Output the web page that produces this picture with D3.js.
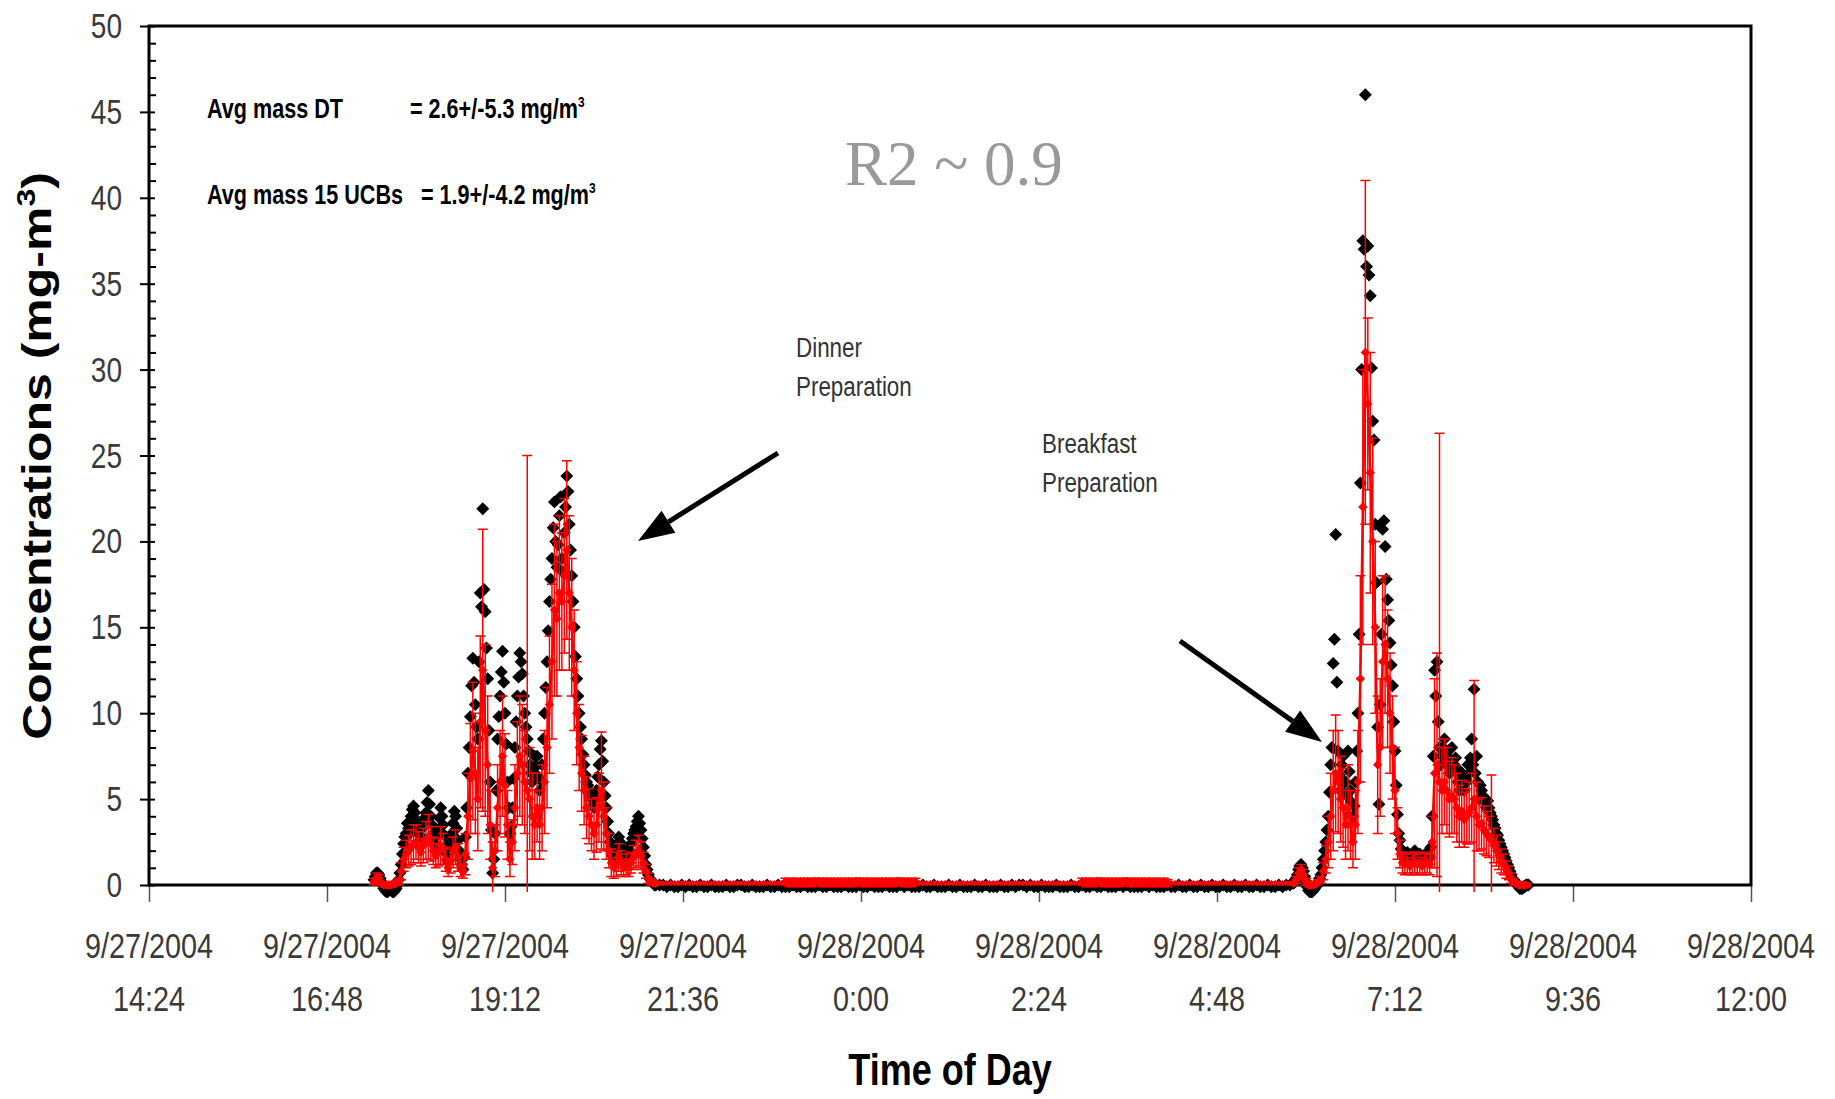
<!DOCTYPE html>
<html>
<head>
<meta charset="utf-8">
<script src="https://cdn.jsdelivr.net/npm/d3@7"></script>
<style>
  body { margin: 0; background: #fff; }
</style>
</head>
<body>
<svg id="chart" width="1835" height="1099"></svg>
<script>
// x range of the chart and its tick labels
const xDomain = ["2004-09-27 14:24", "2004-09-28 12:00"]
const xTickStep = 144   // minutes between ticks
const yMajor = [0, 5, 10, 15, 20, 25, 30, 35, 40, 45, 50]

// DustTrak (DT), one reading a minute during dinner, from 17:26
const dtDinnerStart = "2004-09-27 17:26"
const dtDinner = [
  0.3, 0.5, 0.7, 0.7, 0.6, 0.4, 0.2, 0.0, -0.2, -0.3,
  -0.4, -0.4, -0.3, -0.2, -0.3, -0.4, -0.4, -0.3, -0.2, 0.0,
  0.3, 0.7, 1.2, 1.8, 2.4, 2.8, 3.0, 3.6, 3.3, 3.0,
  4.0, 4.4, 4.6, 4.2, 3.8, 3.4, 3.2, 2.9, 2.8, 3.3,
  3.6, 3.9, 4.2, 4.8, 5.5, 4.7, 4.0, 3.5, 3.0, 2.7,
  2.4, 2.9, 3.2, 3.9, 4.5, 4.0, 3.5, 2.9, 2.2, 1.8,
  1.4, 1.9, 2.5, 3.0, 3.6, 4.3, 4.0, 3.3, 2.6, 2.0,
  1.5, 1.2, 0.9, 1.6, 2.8, 4.5, 6.5, 8.0, 9.8, 11.6,
  13.2, 11.8, 10.5, 9.2, 8.5, 13.0, 17.0, 16.2, 21.9, 17.2,
  15.9, 13.8, 12.0, 9.0, 6.0, 3.2, 0.7, 1.5, 3.0, 5.5,
  8.5, 9.8, 11.0, 12.4, 13.6, 11.8, 10.0, 8.2, 6.0, 4.5,
  3.0, 3.4, 4.5, 6.2, 8.0, 9.5, 11.0, 12.1, 13.5, 13.0,
  12.3, 11.0, 10.0, 9.2, 8.5, 7.8, 7.0, 6.5, 6.0, 6.8,
  7.5, 6.9, 7.5, 6.3, 5.5, 6.1, 7.0, 8.5, 10.0, 11.5,
  13.0, 14.8, 16.5, 17.8, 19.0, 20.8, 22.3, 20.0, 18.5, 19.8,
  21.5, 22.6, 19.0, 18.2, 20.5, 22.0, 23.8, 22.9, 21.0, 19.5,
  18.0, 16.5, 15.0, 13.3, 12.0, 11.0, 10.0, 9.2, 8.5, 7.6,
  7.0, 6.4, 6.0, 5.8, 5.5, 5.2, 5.0, 4.6, 4.5, 5.0,
  5.5, 6.3, 7.0, 7.9, 8.4, 7.2, 6.0, 5.2, 4.5, 3.7,
  3.0, 2.5, 2.0, 1.7, 1.5, 1.8, 2.0, 2.4, 2.8, 2.5,
  2.2, 1.8, 1.5, 1.7, 2.0, 1.8, 1.6, 2.0, 2.4, 2.7,
  3.0, 3.2, 3.4, 3.7, 4.0, 3.6, 3.2, 2.7, 2.2, 1.7,
  1.2, 0.9, 0.6, 0.4, 0.3, 0.2, 0.1, 0.0, 0.0
]

// DT during breakfast, one reading a minute from 5:50
const dtBreakfastStart = "2004-09-28 05:50"
const dtBreakfast = [
  0.1, 0.2, 0.4, 0.6, 0.9, 1.1, 1.2, 1.0, 0.8, 0.5,
  0.2, -0.1, -0.3, -0.4, -0.4, -0.4, -0.3, -0.2, -0.1, 0.0,
  0.2, 0.4, 0.6, 1.0, 1.5, 2.0, 2.5, 3.2, 4.0, 5.4,
  7.0, 8.0, 12.9, 14.3, 20.4, 11.8, 7.8, 6.4, 5.5, 7.0,
  7.5, 6.0, 6.0, 5.2, 7.8, 6.6, 5.5, 4.8, 4.0, 4.6,
  6.0, 7.8, 10.0, 14.6, 23.4, 30.0, 37.5, 37.0, 46.0, 36.0,
  37.2, 35.5, 34.3, 30.1, 27.0, 25.9, 21.0, 17.6, 9.2, 4.7,
  10.5, 14.6, 20.7, 21.2, 19.7, 17.8, 16.6, 15.4, 14.1, 12.8,
  11.6, 9.5, 7.8, 5.8, 4.1, 3.0, 2.6, 2.1, 1.8, 1.7,
  1.6, 1.8, 1.9, 1.7, 1.5, 1.6, 1.7, 1.9, 2.0, 1.8,
  1.6, 1.5, 1.8, 1.7, 1.5, 1.6, 1.7, 1.8, 1.9, 1.7,
  1.6, 2.2, 4.0, 7.5, 12.5, 11.0, 13.0, 9.5, 8.0, 7.0,
  7.5, 8.0, 8.5, 7.6, 7.0, 7.8, 6.5, 7.2, 8.0, 6.8,
  7.0, 7.4, 6.5, 6.0, 5.5, 6.6, 6.5, 6.0, 5.5, 6.2,
  6.0, 7.0, 6.5, 7.4, 8.5, 7.0, 11.4, 6.5, 7.5, 6.0,
  5.0, 5.8, 5.5, 5.2, 5.0, 4.8, 4.5, 4.9, 4.5, 4.2,
  4.0, 3.8, 3.5, 3.3, 3.0, 2.9, 2.6, 2.4, 2.2, 2.0,
  1.8, 1.6, 1.4, 1.2, 1.0, 0.8, 0.6, 0.4, 0.3, 0.2,
  0.1, 0.0, -0.1, -0.2, -0.2, -0.2, -0.1, -0.1, 0.0, 0.0,
  0.0
]

// mean of the 15 UCBs and its standard deviation, every 2 minutes during dinner
const ucbDinnerStart = "2004-09-27 17:26"
const ucbDinner = [
  0.2, 0.4, 0.4, 0.1, 0.0, 0.0, 0.0, 0.0, 0.1, 0.1,
  0.2, 0.8, 1.5, 1.8, 2.0, 2.2, 2.4, 2.5, 2.2, 1.9,
  2.3, 2.6, 2.8, 2.4, 2.0, 1.7, 1.9, 2.3, 2.1, 1.5,
  1.0, 1.4, 1.9, 2.2, 1.6, 1.1, 0.8, 1.8, 4.0, 6.2,
  7.8, 6.5, 5.0, 9.5, 12.5, 9.0, 7.0, 3.5, 1.0, 2.0,
  4.5, 6.0, 7.5, 5.8, 3.5, 1.5, 2.5, 4.5, 6.5, 7.5,
  7.0, 6.0, 5.5, 5.0, 4.0, 3.5, 4.5, 3.5, 4.5, 6.0,
  8.0, 10.5, 13.0, 16.0, 15.5, 17.0, 16.5, 18.0, 19.5, 17.0,
  15.0, 12.5, 10.0, 8.0, 6.5, 5.5, 4.5, 4.0, 3.5, 3.0,
  3.5, 4.5, 5.5, 4.0, 3.0, 2.0, 1.3, 1.0, 1.2, 1.6,
  1.3, 1.0, 1.2, 1.0, 1.3, 1.6, 1.8, 2.0, 1.7, 1.3,
  0.8, 0.4, 0.2, 0.1, 0.1
]
const sdDinner = [
  0.2, 0.3, 0.2, 0.1, 0.1, 0.1, 0.1, 0.1, 0.1, 0.1,
  0.2, 0.5, 0.7, 0.8, 0.9, 1.0, 1.1, 1.0, 0.9, 0.8,
  1.0, 1.1, 1.3, 1.0, 0.8, 0.7, 0.8, 1.1, 0.9, 0.7,
  0.5, 0.7, 0.9, 1.0, 0.8, 0.6, 0.4, 1.2, 2.5, 3.2,
  4.0, 3.5, 3.0, 5.0, 8.2, 5.0, 4.0, 2.0, 1.5, 1.5,
  2.5, 3.0, 3.5, 3.0, 2.0, 1.0, 1.3, 2.5, 3.0, 3.5,
  3.5, 3.0, 19.5, 3.0, 2.5, 2.0, 2.0, 2.0, 2.5, 3.0,
  3.5, 4.0, 4.5, 5.0, 4.5, 4.5, 4.0, 4.5, 5.2, 4.5,
  4.0, 3.5, 3.0, 2.5, 2.2, 2.0, 1.8, 1.6, 1.5, 1.5,
  1.6, 2.0, 3.4, 2.0, 1.5, 1.0, 0.8, 0.6, 0.7, 0.8,
  0.7, 0.5, 0.6, 0.5, 0.6, 0.7, 0.8, 0.9, 0.8, 0.6,
  0.4, 0.3, 0.2, 0.1, 0.1
]

// UCB mean and sd every 2 minutes during breakfast, from 5:50
const ucbBreakfastStart = "2004-09-28 05:50"
const ucbBreakfast = [
  0.1, 0.3, 0.7, 0.9, 0.6, 0.2, 0.0, 0.0, 0.0, 0.1,
  0.2, 0.3, 0.8, 1.5, 2.5, 4.0, 5.5, 6.5, 6.0, 5.0,
  4.5, 3.5, 4.5, 3.5, 2.5, 3.5, 6.0, 12.0, 22.0, 31.0,
  28.0, 24.0, 20.0, 15.0, 7.0, 8.0, 13.0, 14.0, 12.0, 10.0,
  8.0, 5.5, 3.0, 1.8, 1.3, 1.2, 1.3, 1.1, 1.2, 1.3,
  1.2, 1.3, 1.1, 1.2, 1.3, 1.2, 2.5, 6.5, 7.0, 6.0,
  5.5, 6.0, 5.5, 5.0, 5.2, 5.0, 4.5, 4.0, 4.3, 3.8,
  4.0, 4.2, 4.5, 5.0, 4.0, 3.5, 3.6, 3.2, 3.0, 2.8,
  2.6, 2.3, 2.0, 1.7, 1.4, 1.2, 0.9, 0.7, 0.4, 0.2,
  0.1, 0.0, 0.0, 0.0, 0.0, 0.0
]
const sdBreakfast = [
  0.1, 0.2, 0.3, 0.3, 0.3, 0.2, 0.1, 0.1, 0.1, 0.1,
  0.1, 0.2, 0.5, 0.8, 1.5, 2.5, 3.5, 3.4, 3.0, 2.5,
  2.3, 2.0, 2.5, 2.0, 1.5, 2.0, 3.0, 6.0, 8.0, 10.0,
  5.0, 7.0, 6.0, 5.0, 4.0, 4.0, 5.0, 4.0, 4.0, 3.5,
  3.0, 2.5, 1.5, 0.8, 0.6, 0.6, 0.6, 0.5, 0.6, 0.6,
  0.6, 0.6, 0.5, 0.6, 0.6, 0.6, 1.5, 5.5, 6.5, 20.3,
  2.5, 2.5, 2.5, 2.2, 2.2, 2.0, 2.0, 1.8, 1.8, 1.6,
  1.6, 1.8, 2.0, 6.9, 2.0, 1.5, 1.5, 1.4, 1.3, 1.2,
  3.8, 1.0, 0.9, 0.8, 0.7, 0.6, 0.5, 0.4, 0.3, 0.2,
  0.1, 0.1, 0.1, 0.1, 0.1, 0.0
]

// night, both instruments every 3 minutes from 21:17
const nightStart = "2004-09-27 21:17"
const dtNight = [
  0.0, 0.0, -0.1, 0.0, -0.1, -0.1, 0.0, -0.1, 0.0, -0.1,
  -0.1, 0.0, -0.1, -0.1, 0.0, -0.1, -0.1, -0.1, 0.0, -0.1,
  -0.1, 0.0, 0.0, -0.1, -0.1, 0.0, -0.1, -0.1, -0.1, 0.0,
  -0.1, -0.1, 0.0, -0.1, -0.1, -0.1, 0.0, -0.1, -0.1, 0.0,
  -0.1, -0.1, -0.1, 0.0, -0.1, -0.1, 0.0, -0.1, -0.1, -0.1,
  0.0, -0.1, -0.1, -0.1, 0.0, -0.1, -0.1, 0.0, -0.1, -0.1,
  -0.1, 0.0, -0.1, -0.1, -0.1, 0.0, -0.1, 0.0, -0.1, -0.1,
  -0.1, 0.0, -0.1, -0.1, 0.0, -0.1, -0.1, -0.1, 0.0, -0.1,
  -0.1, 0.0, -0.1, -0.1, -0.1, 0.0, -0.1, -0.1, 0.0, -0.1,
  -0.1, -0.1, 0.0, -0.1, -0.1, 0.0, -0.1, 0.0, 0.0, -0.1,
  0.0, -0.1, -0.1, 0.0, -0.1, -0.1, -0.1, 0.0, -0.1, -0.1,
  -0.1, 0.0, -0.1, -0.1, 0.0, -0.1, -0.1, 0.0, -0.1, -0.1,
  0.0, -0.1, -0.1, -0.1, 0.0, -0.1, 0.0, -0.1, -0.1, -0.1,
  -0.1, 0.0, -0.1, 0.0, -0.1, -0.1, -0.1, 0.0, -0.1, -0.1,
  0.0, -0.1, -0.1, 0.0, -0.1, -0.1, 0.0, -0.1, -0.1, 0.0,
  -0.1, -0.1, 0.0, -0.1, -0.1, 0.0, -0.1, -0.1, 0.0, -0.1,
  -0.1, 0.0, -0.1, -0.1, 0.0, -0.1, -0.1, 0.0, -0.1, 0.0,
  0.0
]
const ucbNight = [
  0.1, 0.1, 0.1, 0.1, 0.1, 0.1, 0.1, 0.1, 0.1, 0.1,
  0.1, 0.1, 0.1, 0.1, 0.1, 0.1, 0.1, 0.1, 0.1, 0.1,
  0.1, 0.1, 0.1, 0.1, 0.1, 0.1, 0.1, 0.1, 0.1, 0.1,
  0.1, 0.1, 0.1, 0.1, 0.2, 0.1, 0.2, 0.1, 0.2, 0.1,
  0.2, 0.1, 0.2, 0.2, 0.1, 0.2, 0.1, 0.2, 0.1, 0.2,
  0.1, 0.2, 0.1, 0.2, 0.2, 0.1, 0.2, 0.1, 0.2, 0.1,
  0.2, 0.1, 0.2, 0.1, 0.2, 0.2, 0.1, 0.2, 0.1, 0.2,
  0.1, 0.1, 0.1, 0.1, 0.1, 0.1, 0.1, 0.1, 0.1, 0.1,
  0.1, 0.1, 0.1, 0.1, 0.1, 0.1, 0.1, 0.1, 0.1, 0.1,
  0.1, 0.1, 0.1, 0.1, 0.1, 0.1, 0.1, 0.1, 0.1, 0.1,
  0.1, 0.1, 0.1, 0.1, 0.1, 0.1, 0.1, 0.1, 0.1, 0.1,
  0.1, 0.1, 0.1, 0.1, 0.2, 0.1, 0.2, 0.1, 0.2, 0.2,
  0.1, 0.2, 0.1, 0.2, 0.1, 0.2, 0.2, 0.1, 0.2, 0.1,
  0.2, 0.1, 0.2, 0.1, 0.2, 0.1, 0.2, 0.1, 0.1, 0.1,
  0.1, 0.1, 0.1, 0.1, 0.1, 0.1, 0.1, 0.1, 0.1, 0.1,
  0.1, 0.1, 0.1, 0.1, 0.1, 0.1, 0.1, 0.1, 0.1, 0.1,
  0.1, 0.1, 0.1, 0.1, 0.1, 0.1, 0.1, 0.1, 0.1, 0.1,
  0.1
]
const sdNight = [
  0.05, 0.05, 0.05, 0.05, 0.05, 0.05, 0.05, 0.05, 0.05, 0.05,
  0.05, 0.05, 0.05, 0.05, 0.05, 0.05, 0.05, 0.05, 0.05, 0.05,
  0.05, 0.05, 0.05, 0.05, 0.05, 0.05, 0.05, 0.05, 0.05, 0.05,
  0.05, 0.05, 0.05, 0.05, 0.2, 0.2, 0.2, 0.2, 0.2, 0.2,
  0.2, 0.2, 0.2, 0.2, 0.2, 0.2, 0.2, 0.2, 0.2, 0.2,
  0.2, 0.2, 0.2, 0.2, 0.2, 0.2, 0.2, 0.2, 0.2, 0.2,
  0.2, 0.2, 0.2, 0.2, 0.2, 0.2, 0.2, 0.2, 0.2, 0.2,
  0.05, 0.05, 0.05, 0.05, 0.05, 0.05, 0.05, 0.05, 0.05, 0.05,
  0.05, 0.05, 0.05, 0.05, 0.05, 0.05, 0.05, 0.05, 0.05, 0.05,
  0.05, 0.05, 0.05, 0.05, 0.05, 0.05, 0.05, 0.05, 0.05, 0.05,
  0.05, 0.05, 0.05, 0.05, 0.05, 0.05, 0.05, 0.05, 0.05, 0.05,
  0.05, 0.05, 0.05, 0.05, 0.2, 0.2, 0.2, 0.2, 0.2, 0.2,
  0.2, 0.2, 0.2, 0.2, 0.2, 0.2, 0.2, 0.2, 0.2, 0.2,
  0.2, 0.2, 0.2, 0.2, 0.2, 0.2, 0.2, 0.2, 0.05, 0.05,
  0.05, 0.05, 0.05, 0.05, 0.05, 0.05, 0.05, 0.05, 0.05, 0.05,
  0.05, 0.05, 0.05, 0.05, 0.05, 0.05, 0.05, 0.05, 0.05, 0.05,
  0.05, 0.05, 0.05, 0.05, 0.05, 0.05, 0.05, 0.05, 0.05, 0.05,
  0.05
]

const statLines = [
  ["Avg mass DT", "= 2.6+/-5.3 mg/m"],
  ["Avg mass 15 UCBs", "= 1.9+/-4.2 mg/m"]
]
const notes = [
  {lines: ["Dinner", "Preparation"], x: 796, y: 357, from: [778, 453], to: [638, 541]},
  {lines: ["Breakfast", "Preparation"], x: 1042, y: 453, from: [1180, 641], to: [1322, 742]}
]

const parse = d3.timeParse("%Y-%m-%d %H:%M")
const squeeze = 0.8   // the original picture is narrowed horizontally
const sans = "'Liberation Sans', Arial, sans-serif"

let width = 1835,
  height = 1099,
  plot = {left: 149, right: 1751, top: 26, bottom: 885},
  svg = d3.select("#chart")

function dt_series(start, step, dt) {
  let t0 = parse(start)
  return dt.map((v, i) => ({t: d3.timeMinute.offset(t0, i * step), v: v}))
}

function ucb_series(start, step, mean, sd) {
  let t0 = parse(start)
  return mean.map((v, i) => ({t: d3.timeMinute.offset(t0, i * step), v: v, sd: sd[i]}))
}

// square diamond like the spreadsheet marker
const diamond = {
  draw(context, size) {
    let r = Math.sqrt(size / 2)
    context.moveTo(0, -r)
    context.lineTo(r, 0)
    context.lineTo(0, r)
    context.lineTo(-r, 0)
    context.closePath()
  }
}

function narrow_text(g, str, x, y, size, opts) {
  opts = opts || {}
  return g.append("text")
    .attr("transform", `translate(${x},${y}) scale(${squeeze},1)` + (opts.rotate ? ` rotate(${opts.rotate})` : ""))
    .attr("text-anchor", opts.anchor || "start")
    .attr("font-size", size)
    .attr("font-weight", opts.bold ? "bold" : "normal")
    .attr("fill", opts.fill || "#000")
    .style("font-family", sans)
    .text(str)
}

let x = d3.scaleTime()
  .domain(xDomain.map(parse))
  .range([plot.left, plot.right])
let y = d3.scaleLinear()
  .domain([0, 50])
  .range([plot.bottom, plot.top])

let dtPoints = [
  dt_series(dtDinnerStart, 1, dtDinner),
  dt_series(nightStart, 3, dtNight),
  dt_series(dtBreakfastStart, 1, dtBreakfast)
].flat()
let ucbSegments = [
  ucb_series(ucbDinnerStart, 2, ucbDinner, sdDinner),
  ucb_series(nightStart, 3, ucbNight, sdNight),
  ucb_series(ucbBreakfastStart, 2, ucbBreakfast, sdBreakfast)
]
let ucbPoints = ucbSegments.flat()

svg.append("defs").append("clipPath")
  .attr("id", "plot-clip")
  .append("rect")
  .attr("x", plot.left)
  .attr("y", plot.top)
  .attr("width", plot.right - plot.left)
  .attr("height", plot.bottom - plot.top + 7)

// ---- axes ----
let xTicks = d3.range(10).map(i => d3.timeMinute.offset(parse(xDomain[0]), i * xTickStep))
let fmtDate = d3.timeFormat("%-m/%-d/%Y"),
  fmtTime = d3.timeFormat("%-H:%M")

let xAxis = svg.append("g")
  .attr("transform", `translate(0,${plot.bottom})`)
  .call(d3.axisBottom(x).tickValues(xTicks).tickSize(17).tickFormat(""))
xAxis.select(".domain").remove()
xAxis.selectAll(".tick line").attr("stroke", "#555").attr("stroke-width", 1.5)

let labels = svg.append("g")
xTicks.forEach(t => {
  narrow_text(labels, fmtDate(t), x(t), 958, 36, {anchor: "middle", fill: "#3a3a3a"})
  narrow_text(labels, fmtTime(t), x(t), 1011, 36, {anchor: "middle", fill: "#3a3a3a"})
})

let yMinor = d3.range(0, 51).filter(v => v % 5 != 0)
let yAxisMinor = svg.append("g")
  .attr("transform", `translate(${plot.left},0)`)
  .call(d3.axisRight(y).tickValues(yMinor).tickSize(7).tickFormat(""))
yAxisMinor.select(".domain").remove()
yAxisMinor.selectAll(".tick line").attr("stroke", "#000").attr("stroke-width", 2)

let yAxisMajor = svg.append("g")
  .attr("transform", `translate(${plot.left},0)`)
  .call(d3.axisLeft(y).tickValues(yMajor).tickSize(9).tickFormat(""))
yAxisMajor.select(".domain").remove()
yAxisMajor.selectAll(".tick line").attr("x1", 6).attr("stroke", "#000").attr("stroke-width", 2)

yMajor.forEach(v => {
  narrow_text(labels, String(v), 122, y(v) + 12, 35, {anchor: "end", fill: "#3a3a3a"})
})

// plot frame
svg.append("rect")
  .attr("x", plot.left)
  .attr("y", plot.top)
  .attr("width", plot.right - plot.left)
  .attr("height", plot.bottom - plot.top)
  .attr("fill", "none")
  .attr("stroke", "#000")
  .attr("stroke-width", 3)

// ---- data ----
svg.append("g")
  .selectAll("path")
  .data(dtPoints).enter()
  .append("path")
  .attr("transform", d => `translate(${x(d.t)},${y(d.v)})`)
  .attr("d", d3.symbol().type(diamond).size(84))
  .attr("fill", "#000")

let cap = 5
svg.append("g")
  .attr("clip-path", "url(#plot-clip)")
  .attr("stroke", "#f00")
  .attr("stroke-width", 1.5)
  .attr("fill", "none")
  .selectAll("path")
  .data(ucbPoints.filter(d => d.sd > 0)).enter()
  .append("path")
  .attr("d", d => {
    let cx = x(d.t), y0 = y(d.v - d.sd), y1 = y(d.v + d.sd)
    return `M${cx},${y0}V${y1}M${cx - cap},${y1}H${cx + cap}M${cx - cap},${y0}H${cx + cap}`
  })

let line = d3.line().x(d => x(d.t)).y(d => y(d.v))
svg.append("g")
  .selectAll("path")
  .data(ucbSegments).enter()
  .append("path")
  .attr("d", line)
  .attr("fill", "none")
  .attr("stroke", "#f00")
  .attr("stroke-width", 2.5)

svg.append("g")
  .selectAll("path")
  .data(ucbPoints).enter()
  .append("path")
  .attr("transform", d => `translate(${x(d.t)},${y(d.v)})`)
  .attr("d", d3.symbol().type(diamond).size(d => d.sd < 0.1 ? 18 : 44))
  .attr("fill", "#f00")

// ---- titles and notes ----
let yTitle = narrow_text(svg, "", 51, 456, 50, {anchor: "middle", bold: true, rotate: -90})
yTitle.append("tspan").text("Concentrations (mg-m")
yTitle.append("tspan").attr("dy", -20).attr("font-size", 32).text("3")
yTitle.append("tspan").attr("dy", 20).text(")")

narrow_text(svg, "Time of Day", 950, 1085, 45, {anchor: "middle", bold: true})

statLines.forEach((s, i) => {
  let yy = 118 + i * 86
  narrow_text(svg, s[0], 207, yy, 27, {bold: true})
  let t = narrow_text(svg, s[1], 410 + i * 11, yy, 27, {bold: true})
  t.append("tspan").attr("dy", -11).attr("font-size", 15).text("3")
})

svg.append("text")
  .attr("x", 845)
  .attr("y", 185)
  .style("font-family", "'Liberation Serif', 'Times New Roman', serif")
  .attr("font-size", 63)
  .attr("fill", "#999")
  .text("R2 ~ 0.9")

notes.forEach(n => {
  n.lines.forEach((l, i) => narrow_text(svg, l, n.x, n.y + i * 39, 28, {fill: "#333"}))
  let dx = n.to[0] - n.from[0], dy = n.to[1] - n.from[1],
    len = Math.hypot(dx, dy), ux = dx / len, uy = dy / len,
    head = 36, half = 13,
    bx = n.to[0] - ux * head, by = n.to[1] - uy * head
  svg.append("line")
    .attr("x1", n.from[0]).attr("y1", n.from[1])
    .attr("x2", bx).attr("y2", by)
    .attr("stroke", "#000").attr("stroke-width", 5)
  svg.append("path")
    .attr("d", `M${n.to[0]},${n.to[1]}L${bx - uy * half},${by + ux * half}L${bx + uy * half},${by - ux * half}Z`)
    .attr("fill", "#000")
})
</script>
</body>
</html>
